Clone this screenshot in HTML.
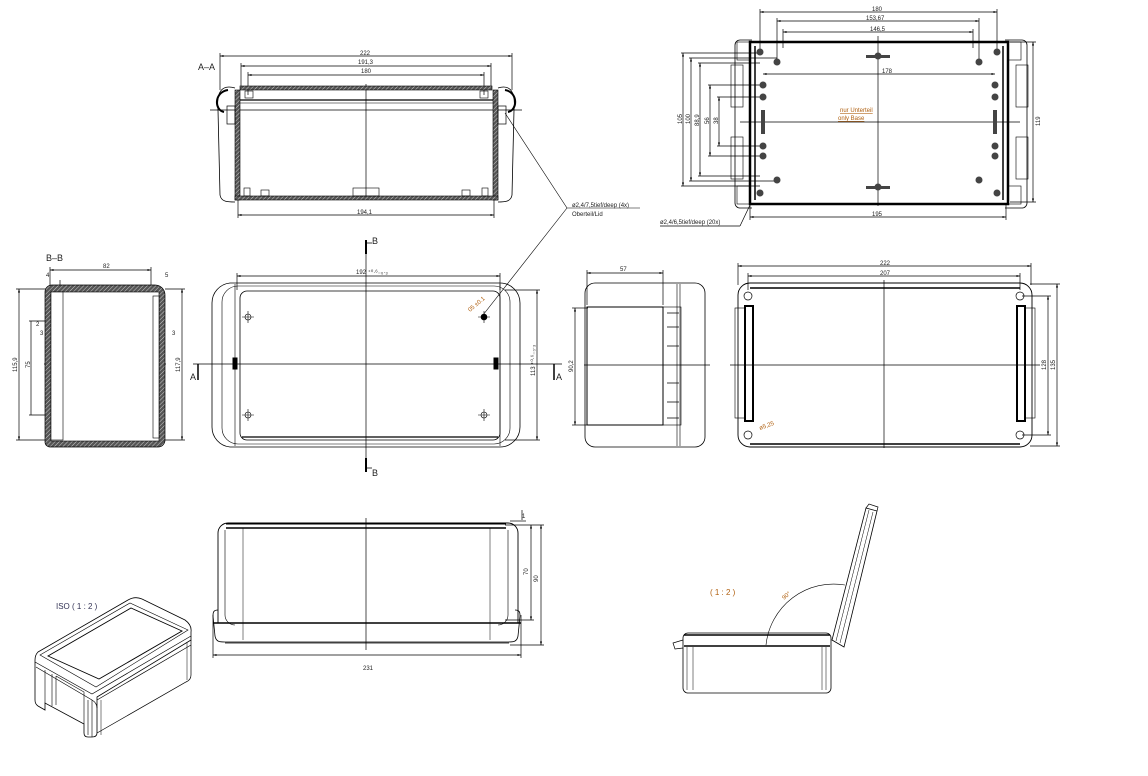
<!DOCTYPE html>
<html><head><meta charset="utf-8"><style>
html,body{margin:0;padding:0;background:#fff}
svg{display:block}
text{font-family:"Liberation Sans",sans-serif;font-size:6px;fill:#222}
.t{font-size:9px}
.o{fill:#b06010}
</style></head><body>
<svg width="1148" height="776" viewBox="0 0 1148 776" xmlns="http://www.w3.org/2000/svg">
<defs>
<pattern id="h" width="3" height="3" patternUnits="userSpaceOnUse" patternTransform="rotate(45)">
<rect width="3" height="3" fill="#555"/><line x1="0" y1="0" x2="0" y2="3" stroke="#ccc" stroke-width="1"/></pattern>
<marker id="a" markerWidth="6" markerHeight="6" refX="5" refY="3" orient="auto-start-reverse"><path d="M0,1.5 L5,3 L0,4.5z" fill="#000"/></marker>
</defs>
<g fill="none" stroke="#000" stroke-width="1">

<!-- ============ A-A section ============ -->
<text x="198" y="70" class="t" stroke="none">A–A</text>
<g stroke-width=".7">
<line x1="220" y1="56" x2="512" y2="56" marker-start="url(#a)" marker-end="url(#a)"/>
<line x1="241" y1="66" x2="491" y2="66" marker-start="url(#a)" marker-end="url(#a)"/>
<line x1="248" y1="75" x2="484" y2="75" marker-start="url(#a)" marker-end="url(#a)"/>
<line x1="220" y1="53" x2="220" y2="90"/><line x1="512" y1="53" x2="512" y2="90"/>
<line x1="241" y1="63" x2="241" y2="88"/><line x1="491" y1="63" x2="491" y2="88"/>
<line x1="248" y1="72" x2="248" y2="95"/><line x1="484" y1="72" x2="484" y2="95"/>
<line x1="238" y1="215" x2="494" y2="215" marker-start="url(#a)" marker-end="url(#a)"/>
<line x1="238" y1="200" x2="238" y2="218"/><line x1="494" y1="200" x2="494" y2="218"/>
<line x1="366" y1="84" x2="366" y2="200"/>
<line x1="210" y1="110" x2="522" y2="110"/>
</g>
<text x="360" y="55" stroke="none">222</text>
<text x="358" y="64" stroke="none">191,3</text>
<text x="361" y="73" stroke="none">180</text>
<text x="357" y="214" stroke="none">194,1</text>
<rect x="240" y="86" width="252" height="4" fill="url(#h)" stroke="#000" stroke-width=".6"/>
<rect x="235" y="90" width="5" height="110" fill="url(#h)" stroke-width=".6"/>
<rect x="493" y="90" width="5" height="110" fill="url(#h)" stroke-width=".6"/>
<rect x="235" y="196" width="263" height="4" fill="url(#h)" stroke-width=".6"/>
<path d="M235,88 C222,84 216,92 218,110 L220,195 C221,202 228,202 235,202" stroke-width=".8"/>
<path d="M498,88 C510,84 516,92 514,110 L512,195 C511,202 504,202 498,202" stroke-width=".8"/>
<path d="M228,90 C214,92 214,110 224,112 M505,90 C518,92 518,110 508,112" stroke-width="2"/>
<rect x="227" y="106" width="8" height="18" stroke-width=".7"/><rect x="498" y="106" width="8" height="18" stroke-width=".7"/>
<rect x="245" y="91" width="8" height="7" stroke-width=".6"/><rect x="480" y="91" width="8" height="7" stroke-width=".6"/>
<line x1="240" y1="100" x2="493" y2="100" stroke-width="1.2"/>
<line x1="240" y1="103" x2="493" y2="103" stroke-width=".6"/>
<rect x="353" y="188" width="26" height="8" stroke-width=".6"/>
<rect x="261" y="190" width="8" height="6" stroke-width=".6"/><rect x="462" y="190" width="8" height="6" stroke-width=".6"/>
<rect x="244" y="188" width="6" height="8" stroke-width=".6"/><rect x="482" y="188" width="6" height="8" stroke-width=".6"/>

<!-- leader -->
<g stroke-width=".6">
<line x1="505" y1="113" x2="567" y2="208"/>
<line x1="567" y1="208" x2="640" y2="208"/>
<line x1="567" y1="208" x2="483" y2="315"/>
</g>
<text x="572" y="207" stroke="none">ø2,4/7,5tief/deep (4x)</text>
<text x="572" y="216" stroke="none">Oberteil/Lid</text>

<!-- ============ Base top view ============ -->
<g stroke-width=".7">
<line x1="760" y1="12" x2="997" y2="12" marker-start="url(#a)" marker-end="url(#a)"/>
<line x1="777" y1="21" x2="979" y2="21" marker-start="url(#a)" marker-end="url(#a)"/>
<line x1="783" y1="32" x2="973" y2="32" marker-start="url(#a)" marker-end="url(#a)"/>
<line x1="760" y1="9" x2="760" y2="52"/><line x1="997" y1="9" x2="997" y2="52"/>
<line x1="777" y1="18" x2="777" y2="62"/><line x1="979" y1="18" x2="979" y2="62"/>
<line x1="783" y1="29" x2="783" y2="48"/><line x1="973" y1="29" x2="973" y2="48"/>
<line x1="763" y1="74" x2="995" y2="74" marker-start="url(#a)" marker-end="url(#a)"/>
<line x1="750" y1="217" x2="1006" y2="217" marker-start="url(#a)" marker-end="url(#a)"/>
<line x1="750" y1="205" x2="750" y2="220"/><line x1="1006" y1="205" x2="1006" y2="220"/>
<line x1="1033" y1="42" x2="1033" y2="202" marker-start="url(#a)" marker-end="url(#a)"/>
<line x1="1010" y1="42" x2="1036" y2="42"/><line x1="1010" y1="202" x2="1036" y2="202"/>
<line x1="683" y1="53" x2="683" y2="186" marker-start="url(#a)" marker-end="url(#a)"/>
<line x1="691" y1="58" x2="691" y2="181" marker-start="url(#a)" marker-end="url(#a)"/>
<line x1="700" y1="63" x2="700" y2="176" marker-start="url(#a)" marker-end="url(#a)"/>
<line x1="710" y1="85" x2="710" y2="156" marker-start="url(#a)" marker-end="url(#a)"/>
<line x1="719" y1="97" x2="719" y2="146" marker-start="url(#a)" marker-end="url(#a)"/>
<line x1="681" y1="53" x2="760" y2="53"/><line x1="681" y1="186" x2="760" y2="186"/>
<line x1="689" y1="58" x2="777" y2="58"/><line x1="689" y1="181" x2="777" y2="181"/>
<line x1="698" y1="63" x2="760" y2="63"/><line x1="698" y1="176" x2="760" y2="176"/>
<line x1="708" y1="85" x2="760" y2="85"/><line x1="708" y1="156" x2="760" y2="156"/>
<line x1="717" y1="97" x2="760" y2="97"/><line x1="717" y1="146" x2="760" y2="146"/>
<line x1="878" y1="36" x2="878" y2="206"/>
<line x1="740" y1="122" x2="1020" y2="122"/>
<line x1="660" y1="226" x2="740" y2="226"/><line x1="740" y1="226" x2="750" y2="205"/>
</g>
<text x="872" y="11" stroke="none">180</text>
<text x="866" y="20" stroke="none">153,67</text>
<text x="870" y="31" stroke="none">146,5</text>
<text x="882" y="73" stroke="none">178</text>
<text x="872" y="216" stroke="none">195</text>
<text x="840" y="112" stroke="none" class="o" style="text-decoration:underline">nur Unterteil</text>
<text x="838" y="120" stroke="none" class="o" style="text-decoration:underline">only Base</text>
<text x="1040" y="126" stroke="none" transform="rotate(-90 1040 126)">119</text>
<text x="682" y="124" stroke="none" transform="rotate(-90 682 124)">105</text>
<text x="690" y="124" stroke="none" transform="rotate(-90 690 124)">100</text>
<text x="699" y="126" stroke="none" transform="rotate(-90 699 126)">88,9</text>
<text x="709" y="124" stroke="none" transform="rotate(-90 709 124)">56</text>
<text x="718" y="124" stroke="none" transform="rotate(-90 718 124)">38</text>
<text x="660" y="224" stroke="none">ø2,4/6,5tief/deep (20x)</text>
<path d="M740,40 h12 M1005,40 h17 a5,5 0 0 1 5,5 v158 a5,5 0 0 1 -5,5 h-17 M752,208 h-12 a5,5 0 0 1 -5,-5 v-158 a5,5 0 0 1 5,-5" stroke-width=".8"/>
<rect x="750" y="42" width="258" height="162" stroke-width="2.5"/>
<line x1="755" y1="46" x2="755" y2="200" stroke-width="1.5"/><line x1="1003" y1="46" x2="1003" y2="200" stroke-width="1.5"/>
<rect x="737" y="42" width="13" height="18" stroke-width=".6"/><rect x="737" y="186" width="13" height="18" stroke-width=".6"/>
<rect x="1008" y="42" width="13" height="18" stroke-width=".6"/><rect x="1008" y="186" width="13" height="18" stroke-width=".6"/>
<rect x="731" y="65" width="12" height="42" stroke-width=".6"/><rect x="731" y="137" width="12" height="42" stroke-width=".6"/>
<rect x="1016" y="65" width="12" height="42" stroke-width=".6"/><rect x="1016" y="137" width="12" height="42" stroke-width=".6"/>
<g fill="#444" stroke="none">
<circle cx="760" cy="52" r="3.5"/><circle cx="997" cy="52" r="3.5"/><circle cx="777" cy="62" r="3.5"/><circle cx="979" cy="62" r="3.5"/>
<circle cx="760" cy="193" r="3.5"/><circle cx="997" cy="193" r="3.5"/><circle cx="777" cy="180" r="3.5"/><circle cx="979" cy="180" r="3.5"/>
<circle cx="763" cy="85" r="3.5"/><circle cx="763" cy="97" r="3.5"/><circle cx="763" cy="146" r="3.5"/><circle cx="763" cy="156" r="3.5"/>
<circle cx="995" cy="85" r="3.5"/><circle cx="995" cy="97" r="3.5"/><circle cx="995" cy="146" r="3.5"/><circle cx="995" cy="156" r="3.5"/>
<circle cx="878" cy="56" r="3.5"/><circle cx="878" cy="187" r="3.5"/>
<rect x="761" y="110" width="4" height="24"/><rect x="993" y="110" width="4" height="24"/>
<rect x="866" y="55" width="24" height="3"/><rect x="866" y="186" width="24" height="3"/>
</g>

<!-- ============ B-B ============ -->
<text x="46" y="261" class="t" stroke="none">B–B</text>
<g stroke-width=".7">
<line x1="50" y1="270" x2="151" y2="270" marker-start="url(#a)" marker-end="url(#a)"/>
<line x1="50" y1="267" x2="50" y2="285"/><line x1="151" y1="267" x2="151" y2="285"/>
<line x1="19" y1="289" x2="19" y2="440" marker-start="url(#a)" marker-end="url(#a)"/>
<line x1="16" y1="289" x2="48" y2="289"/><line x1="16" y1="440" x2="48" y2="440"/>
<line x1="182" y1="289" x2="182" y2="440" marker-start="url(#a)" marker-end="url(#a)"/>
<line x1="165" y1="289" x2="185" y2="289"/><line x1="165" y1="440" x2="185" y2="440"/>
<line x1="31" y1="321" x2="31" y2="415"/>
<line x1="29" y1="321" x2="62" y2="321"/><line x1="29" y1="415" x2="62" y2="415"/>
<line x1="44" y1="364" x2="166" y2="364"/>
<line x1="75" y1="287" x2="75" y2="446"/>
<line x1="60" y1="280" x2="60" y2="320"/>
</g>
<text x="103" y="268" stroke="none">82</text>
<text x="46" y="277" stroke="none">4</text><text x="165" y="277" stroke="none">5</text>
<text x="36" y="326" stroke="none">2</text><text x="40" y="335" stroke="none">3</text><text x="172" y="335" stroke="none">3</text>
<text x="17" y="372" stroke="none" transform="rotate(-90 17 372)">115,9</text>
<text x="180" y="372" stroke="none" transform="rotate(-90 180 372)">117,9</text>
<text x="30" y="368" stroke="none" transform="rotate(-90 30 368)">75</text>
<path d="M55,285 h100 a10,10 0 0 1 10,10 v145 a7,7 0 0 1 -7,7 h-108 a5,5 0 0 1 -5,-5 v-150 a7,7 0 0 1 7,-7 z" fill="url(#h)" stroke-width=".7"/>
<rect x="51" y="292" width="108" height="149" fill="#fff" stroke-width=".6"/>
<rect x="51" y="292" width="12" height="148" fill="#fff" stroke-width=".6"/>
<rect x="153" y="296" width="6" height="142" fill="#fff" stroke-width=".6"/>

<!-- ============ Lid top view ============ -->
<g stroke-width=".7">
<line x1="237" y1="276" x2="500" y2="276" marker-start="url(#a)" marker-end="url(#a)"/>
<line x1="237" y1="273" x2="237" y2="290"/><line x1="500" y1="273" x2="500" y2="290"/>
<line x1="537" y1="290" x2="537" y2="440" marker-start="url(#a)" marker-end="url(#a)"/>
<line x1="505" y1="290" x2="540" y2="290"/><line x1="505" y1="440" x2="540" y2="440"/>
<line x1="366" y1="250" x2="366" y2="466"/>
<line x1="193" y1="364" x2="562" y2="364"/>
</g>
<path d="M366,240 v14 M366,458 v14" stroke-width="2"/>
<path d="M366,243 h6 M366,468 h6" stroke-width=".7"/>
<path d="M198,364 v16 M554,364 v16" stroke-width="1.5"/>
<text x="372" y="244" class="t" stroke="none">B</text><text x="372" y="476" class="t" stroke="none">B</text>
<text x="190" y="380" class="t" stroke="none">A</text><text x="556" y="380" class="t" stroke="none">A</text>
<text x="356" y="274" stroke="none">192 ⁺⁰·⁶₋₀·₃</text>
<text x="535" y="376" stroke="none" transform="rotate(-90 535 376)">113 ⁺⁰·⁶₋₀·₃</text>
<text x="470" y="312" stroke="none" class="o" transform="rotate(-40 470 312)">05 ±0.1</text>
<path d="M230,283 h270 a20,20 0 0 1 20,20 v124 a20,20 0 0 1 -20,20 h-270 a20,20 0 0 1 -18,-20 v-124 a20,20 0 0 1 18,-20 z" stroke-width=".8"/>
<rect x="222" y="286" width="288" height="158" rx="16" stroke-width=".6"/>
<line x1="235" y1="284" x2="235" y2="446" stroke-width=".6"/><line x1="500" y1="284" x2="500" y2="446" stroke-width=".6"/>
<rect x="240" y="291" width="260" height="149" rx="7" stroke-width=".8"/>
<line x1="242" y1="437" x2="498" y2="437" stroke-width="1.3"/>
<rect x="233" y="358" width="4" height="11" fill="#000"/><rect x="494" y="358" width="4" height="11" fill="#000"/>
<g stroke-width=".6">
<circle cx="248" cy="317" r="3"/><path d="M242,317h12M248,311v12"/>
<circle cx="484" cy="317" r="3" fill="#000"/><path d="M478,317h12M484,311v12"/>
<circle cx="248" cy="415" r="3"/><path d="M242,415h12M248,409v12"/>
<circle cx="484" cy="415" r="3"/><path d="M478,415h12M484,409v12"/>
</g>

<!-- ============ Side view 57 ============ -->
<g stroke-width=".7">
<line x1="587" y1="273" x2="663" y2="273" marker-start="url(#a)" marker-end="url(#a)"/>
<line x1="587" y1="270" x2="587" y2="305"/><line x1="663" y1="270" x2="663" y2="305"/>
<line x1="575" y1="308" x2="575" y2="425" marker-start="url(#a)" marker-end="url(#a)"/>
<line x1="572" y1="308" x2="588" y2="308"/><line x1="572" y1="425" x2="588" y2="425"/>
<line x1="584" y1="365" x2="710" y2="365"/>
</g>
<text x="620" y="271" stroke="none">57</text>
<text x="573" y="372" stroke="none" transform="rotate(-90 573 372)">90,2</text>
<rect x="585" y="283" width="120" height="164" rx="10" stroke-width=".8"/>
<line x1="677" y1="284" x2="677" y2="446" stroke-width=".6"/><line x1="680" y1="284" x2="680" y2="446" stroke-width=".6"/>
<rect x="587" y="307" width="76" height="118" stroke-width="1"/>
<rect x="663" y="307" width="18" height="118" stroke-width=".6"/>
<g stroke-width=".8"><path d="M667,313h12M667,327h12M667,346h12M667,383h12M667,402h12M667,418h12"/></g>

<!-- ============ Base bottom view ============ -->
<g stroke-width=".7">
<line x1="738" y1="266" x2="1031" y2="266" marker-start="url(#a)" marker-end="url(#a)"/>
<line x1="748" y1="276" x2="1020" y2="276" marker-start="url(#a)" marker-end="url(#a)"/>
<line x1="738" y1="263" x2="738" y2="285"/><line x1="1031" y1="263" x2="1031" y2="285"/>
<line x1="748" y1="273" x2="748" y2="290"/><line x1="1020" y1="273" x2="1020" y2="290"/>
<line x1="1048" y1="296" x2="1048" y2="435" marker-start="url(#a)" marker-end="url(#a)"/>
<line x1="1057" y1="284" x2="1057" y2="446" marker-start="url(#a)" marker-end="url(#a)"/>
<line x1="1022" y1="296" x2="1051" y2="296"/><line x1="1022" y1="435" x2="1051" y2="435"/>
<line x1="1030" y1="284" x2="1060" y2="284"/><line x1="1030" y1="446" x2="1060" y2="446"/>
<line x1="884" y1="280" x2="884" y2="448"/>
<line x1="730" y1="365" x2="1040" y2="365"/>
</g>
<text x="880" y="265" stroke="none">222</text><text x="880" y="275" stroke="none">207</text>
<text x="1046" y="370" stroke="none" transform="rotate(-90 1046 370)">128</text>
<text x="1055" y="370" stroke="none" transform="rotate(-90 1055 370)">135</text>
<text x="760" y="430" stroke="none" class="o" transform="rotate(-20 760 430)">ø5,25</text>
<path d="M750,283 h270 a12,12 0 0 1 12,12 v140 a12,12 0 0 1 -12,12 h-270 a12,12 0 0 1 -12,-12 v-140 a12,12 0 0 1 12,-12 z" stroke-width=".9"/>
<line x1="750" y1="288" x2="1020" y2="288" stroke-width="1.6"/><line x1="750" y1="444" x2="1020" y2="444" stroke-width="1.6"/>
<rect x="745" y="306" width="8" height="115" stroke-width="2"/><rect x="1017" y="306" width="8" height="115" stroke-width="2"/>
<rect x="735" y="308" width="10" height="110" stroke-width=".6"/><rect x="1025" y="308" width="10" height="110" stroke-width=".6"/>
<g stroke-width=".7"><circle cx="748" cy="296" r="4"/><circle cx="1020" cy="296" r="4"/><circle cx="748" cy="435" r="4"/><circle cx="1020" cy="435" r="4"/></g>

<!-- ============ Front view ============ -->
<g stroke-width=".7">
<line x1="213" y1="655" x2="521" y2="655" marker-start="url(#a)" marker-end="url(#a)"/>
<line x1="213" y1="615" x2="213" y2="658"/><line x1="521" y1="615" x2="521" y2="658"/>
<line x1="531" y1="525" x2="531" y2="620" marker-start="url(#a)" marker-end="url(#a)"/>
<line x1="541" y1="525" x2="541" y2="645" marker-start="url(#a)" marker-end="url(#a)"/>
<line x1="505" y1="525" x2="544" y2="525"/><line x1="505" y1="620" x2="534" y2="620"/><line x1="510" y1="645" x2="544" y2="645"/>
<line x1="522" y1="510" x2="522" y2="520"/><line x1="510" y1="521" x2="526" y2="521"/>
<line x1="366" y1="518" x2="366" y2="650"/>
</g>
<text x="363" y="670" stroke="none">231</text>
<text x="528" y="575" stroke="none" transform="rotate(-90 528 575)">70</text>
<text x="538" y="582" stroke="none" transform="rotate(-90 538 582)">90</text>
<text x="522" y="518" stroke="none">1</text>
<path d="M218,623 v-90 a10,10 0 0 1 10,-10 h280 a10,10 0 0 1 10,10 v90" stroke-width=".9"/>
<line x1="226" y1="524" x2="506" y2="524" stroke-width="1"/><line x1="226" y1="528" x2="506" y2="528" stroke-width="1.4"/>
<path d="M225,530 v85 a10,10 0 0 0 10,10 M508,530 v85 a10,10 0 0 1 -10,10" stroke-width=".6"/>
<line x1="243" y1="528" x2="243" y2="640" stroke-width=".5"/><line x1="490" y1="528" x2="490" y2="640" stroke-width=".5"/>
<line x1="213" y1="623" x2="521" y2="623" stroke-width="1.6"/>
<path d="M218,610 c-5,0 -5,3 -5,6 l2,20 c1,6 5,6 10,6 h283 c5,0 9,0 10,-6 l2,-20 c0,-3 0,-6 -5,-6" stroke-width=".8"/>
<line x1="225" y1="643" x2="509" y2="643" stroke-width=".8"/>

<!-- ============ ISO ============ -->
<text x="56" y="609" stroke="none" style="font-size:8px;fill:#335">ISO ( 1 : 2 )</text>
<g stroke-width=".8">
<!-- lid top outline -->
<path d="M38,652 L128,600 Q135,596 142,599 L185,620 Q192,625 191,632 L191,640 L97,697 L97,733 Q97,737 92,737 L88,737 Q84,737 84,733 L84,724 L45,703 L45,710 L38,706 Q35,704 35,700 L35,660 Q35,655 38,652 Z"/>
<!-- top face -->
<path d="M40,655 L130,603 L188,630 L96,687 Z" stroke-width=".6"/>
<path d="M48,656 L131,608 L182,631 L99,679 Z" stroke-width=".9"/>
<!-- lid band lower edge -->
<path d="M35,662 L92,694 L191,636" stroke-width=".7"/>
<path d="M36,667 L92,700 Q97,703 97,708" stroke-width=".7"/>
<!-- front face details -->
<path d="M45,670 L45,703 M52,674 L52,706 M56,676 L84,692 L84,724 M56,676 L56,705 M88,700 L88,735 M92,700 L92,737" stroke-width=".6"/>
<path d="M97,700 L191,645 M191,640 L191,675 Q191,680 186,682 L97,733" stroke-width=".7"/>
<path d="M101,700 L101,735 M187,642 L187,680" stroke-width=".5"/>
</g>

<!-- ============ Open lid view ============ -->
<text x="710" y="595" stroke="none" style="font-size:8px;fill:#b06010">( 1 : 2 )</text>
<text x="784" y="600" stroke="none" class="o" transform="rotate(-40 784 600)">90°</text>
<path d="M766,645 A68,68 0 0 1 845,585" stroke-width=".6"/>
<rect x="683" y="633" width="148" height="60" rx="5" stroke-width=".8"/>
<line x1="684" y1="635" x2="830" y2="635" stroke-width="1.6"/><line x1="684" y1="646" x2="830" y2="646" stroke-width="1.6"/>
<line x1="687" y1="647" x2="687" y2="690" stroke-width=".5"/><line x1="693" y1="647" x2="693" y2="690" stroke-width=".5"/>
<line x1="822" y1="647" x2="822" y2="690" stroke-width=".5"/><line x1="826" y1="647" x2="826" y2="690" stroke-width=".5"/>
<path d="M683,640 l-10,3 l2,6 l8,-1" stroke-width=".7"/>
<path d="M832,640 L866,508 L877,511 L844,647 Z" stroke-width=".8"/>
<path d="M836,641 L869,510 M840,643 L873,512" stroke-width=".5"/>
<path d="M866,508 l3,-4 l9,3 l-1,4" stroke-width=".7"/>
</g>
</svg>
</body></html>
